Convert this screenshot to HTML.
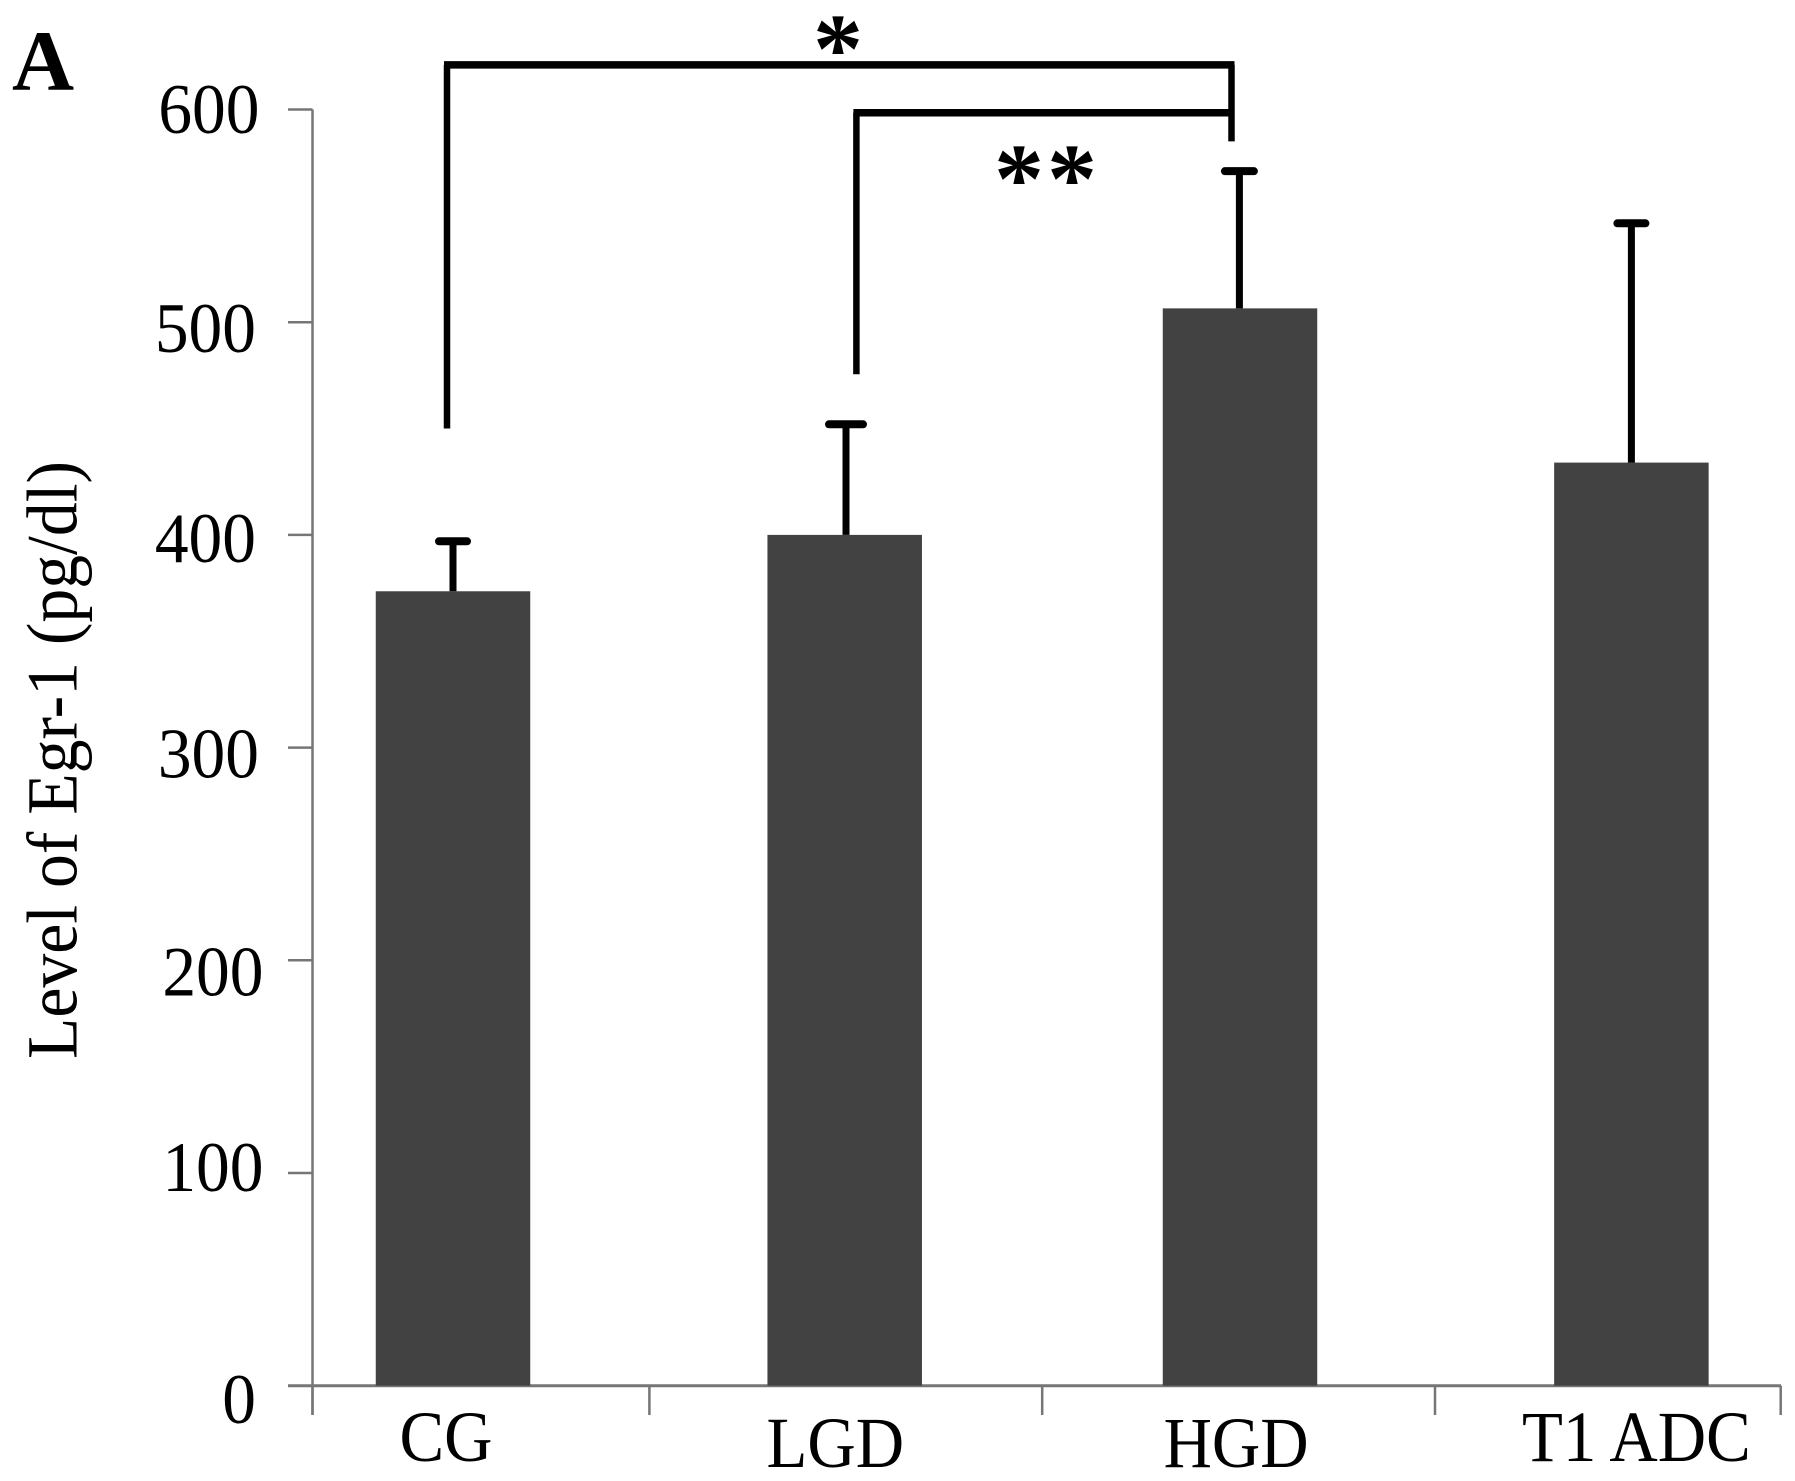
<!DOCTYPE html>
<html lang="en">
<head>
<meta charset="utf-8">
<title>Level of Egr-1 by group</title>
<style>
  html, body { margin: 0; padding: 0; background: #fff; }
  svg { display: block; }
  text { font-family: "Liberation Serif", serif; fill: #000; }
</style>
</head>
<body>
<svg id="chart" xmlns="http://www.w3.org/2000/svg" width="1795" height="1481" viewBox="0 0 1795 1481">
  <rect x="0" y="0" width="1795" height="1481" fill="#fff"/>
  <text x="12" y="90" font-size="86" font-weight="700">A</text>
  <text transform="translate(76.5,1059) rotate(-90) scale(0.94,1)" font-size="72">Level of Egr-1 (pg/dl)</text>
</svg>
<script>
const categories = ["CG", "LGD", "HGD", "T1 ADC"];
const meanValues = [373.5, 400, 506.5, 434];
const errorTops = [397, 452, 571, 546.5];
const yTickValues = [600, 500, 400, 300, 200, 100, 0];
const bracketFrom = [0, 1];
const bracketTo = [2, 2];
const bracketLevels = [621, 598.5];
const bracketDrops = [450, 475.5];
const bracketEndDrop = [585];
const bracketStars = ["*", "**"];

const NS = "http://www.w3.org/2000/svg";
const svg = document.getElementById("chart");
const yScale = v => 1385.7 - v * 2.127;
const xScale = i => 453 + i * 392.8;

function add(tag, attrs, text) {
  const el = document.createElementNS(NS, tag);
  for (const k in attrs) el.setAttribute(k, attrs[k]);
  if (text !== undefined) el.textContent = text;
  svg.appendChild(el);
  return el;
}

function drawAxes() {
  const axisColor = "#767676";
  const yAxis = add("line", { x1: 312.5, x2: 312.5, y1: yScale(600), y2: 1415, stroke: axisColor, "stroke-width": 2.5 });
  
  
  const xAxis = add("line", { x1: 288, x2: 1781, y1: yScale(0), y2: yScale(0), stroke: axisColor, "stroke-width": 3 });
  
  

  const labelEnd = { 600: 259.5, 500: 256, 400: 256, 300: 259, 200: 263.5, 100: 263.5, 0: 256 };
  const labelDrop = { 600: 23.5, 500: 30, 400: 27, 300: 30, 200: 35, 100: 18, 0: 37.5 };
  yTickValues.forEach(v => {
    const tick = add("line", { x1: 288, x2: 312.5, y1: yScale(v), y2: yScale(v), stroke: axisColor, "stroke-width": 2.5 });
    
    
    const label = add("text", {
      transform: "translate(" + labelEnd[v] + "," + (yScale(v) + labelDrop[v]) + ") scale(0.95,1)",
      "text-anchor": "end", "font-size": 71
    }, String(v));
    
    
  });

  const tickXs = [312.5];
  for (let i = 1; i < categories.length; i++) tickXs.push(xScale(i - 0.5));
  tickXs.push(1780.7);
  tickXs.forEach((tx, i) => {
    const tick = add("line", { x1: tx, x2: tx, y1: yScale(0), y2: 1415, stroke: axisColor, "stroke-width": 2.5 });
    
    
  });
}

function drawBars() {
  const barWidth = 154.5;
  const barNudge = [0, -1.1, 1.4, 0];
  const capWidths = [32, 38, 33, 32];
  const whiskerNudge = [0, 1.3, -0.6, 0];
  categories.forEach((c, i) => {
    const cx = xScale(i) + barNudge[i];
    const slug = c.toLowerCase().replace(/\s+/g, "-");
    const bar = add("rect", {
      x: cx - barWidth / 2, y: yScale(meanValues[i]), width: barWidth,
      height: yScale(0) - yScale(meanValues[i]), fill: "#424242"
    });
    
    
    const wx = cx + whiskerNudge[i];
    const whisker = add("line", { x1: wx, x2: wx, y1: yScale(errorTops[i]), y2: yScale(meanValues[i]), stroke: "#000", "stroke-width": 7 });
    
    
    const cap = add("line", { x1: wx - capWidths[i] / 2 + 2, x2: wx + capWidths[i] / 2 - 2, y1: yScale(errorTops[i]), y2: yScale(errorTops[i]), stroke: "#000", "stroke-width": 8, "stroke-linecap": "round" });
    
    
  });
}

function drawCategoryLabels() {
  const labelCenter = [-7, -10.5, -2.5, 5];
  const labelBaseline = [1461, 1467, 1467, 1461];
  categories.forEach((c, i) => {
    const label = add("text", {
      transform: "translate(" + (xScale(i) + labelCenter[i]) + "," + labelBaseline[i] + ") scale(0.93,1)",
      "text-anchor": "middle", "font-size": 72
    }, c);
    
    
  });
}

function drawBrackets() {
  const leftNudge = [-6, 10.6];
  const rightNudge = -7.1;
  const starX = [838, 1047];
  const starBaseline = [82, 212];
  bracketLevels.forEach((level, i) => {
    const lx = xScale(bracketFrom[i]) + leftNudge[i];
    const rx = xScale(bracketTo[i]) + rightNudge;
    const ly = yScale(level);
    const h = add("line", { x1: lx - 3, x2: rx + 3, y1: ly, y2: ly, stroke: "#000", "stroke-width": 7.5 });
    
    
    const v = add("line", { x1: lx, x2: lx, y1: ly, y2: yScale(bracketDrops[i]), stroke: "#000", "stroke-width": 6.5 });
    
    
    const star = add("text", { x: starX[i], y: starBaseline[i], "text-anchor": "middle", "font-size": 100, "font-weight": 700, "letter-spacing": i ? 3 : 0 }, bracketStars[i]);
    
    
  });
  const rx = xScale(bracketTo[0]) + rightNudge;
  const end = add("line", { x1: rx, x2: rx, y1: yScale(bracketLevels[0]), y2: yScale(bracketEndDrop[0]), stroke: "#000", "stroke-width": 6.5 });
  
  
}

drawAxes();
drawBars();
drawCategoryLabels();
drawBrackets();
</script>
</body>
</html>
